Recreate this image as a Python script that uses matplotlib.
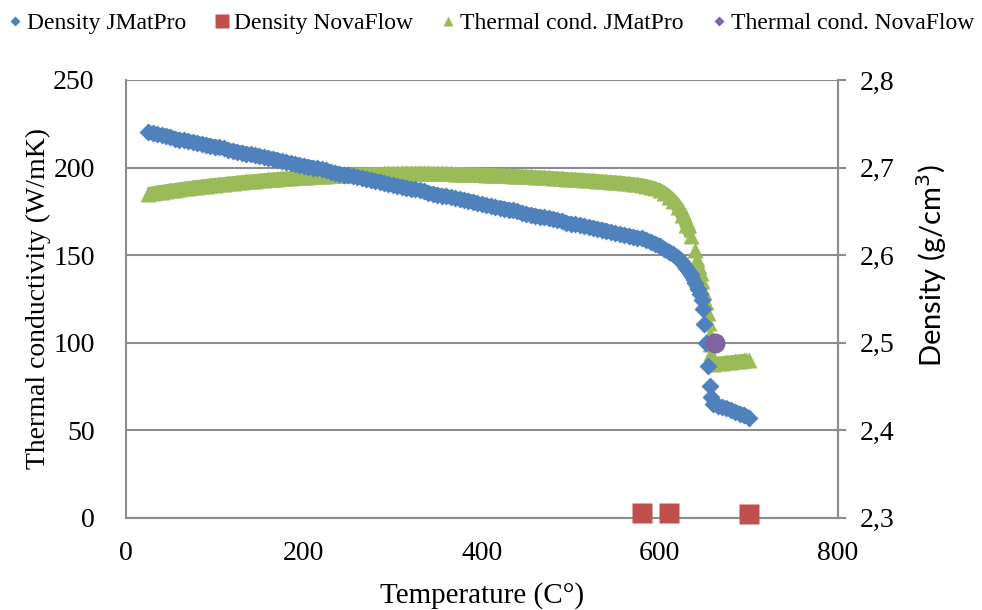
import matplotlib
matplotlib.use("Agg")
import matplotlib.pyplot as plt
from matplotlib.lines import Line2D
from matplotlib.ticker import FuncFormatter, MultipleLocator

plt.rcParams['font.family'] = ['Liberation Serif', 'DejaVu Serif']

# JMatPro density (g/cm3), 25..640 C every 5 C, then the melting range and liquid
dens_temp = [25, 30, 35, 40, 45, 50, 55, 60, 65, 70, 75, 80, 85, 90, 95, 100,
             105, 110, 115, 120, 125, 130, 135, 140, 145, 150, 155, 160, 165, 170, 175, 180, 185, 190, 195, 200,
             205, 210, 215, 220, 225, 230, 235, 240, 245, 250, 255, 260, 265, 270, 275, 280, 285, 290, 295, 300,
             305, 310, 315, 320, 325, 330, 335, 340, 345, 350, 355, 360, 365, 370, 375, 380, 385, 390, 395, 400,
             405, 410, 415, 420, 425, 430, 435, 440, 445, 450, 455, 460, 465, 470, 475, 480, 485, 490, 495, 500,
             505, 510, 515, 520, 525, 530, 535, 540, 545, 550, 555, 560, 565, 570, 575, 580, 585, 590, 595, 600,
             605, 610, 615, 620, 625, 630, 635, 640,
             643, 645, 647, 649, 650, 652, 654, 656, 658, 660,
             665, 670, 675, 680, 685, 690, 695, 700]
dens_jmat = [2.740, 2.739, 2.738, 2.737, 2.736, 2.735, 2.733, 2.732, 2.731, 2.730, 2.729, 2.728, 2.727, 2.726, 2.725, 2.724,
             2.723, 2.722, 2.720, 2.719, 2.718, 2.717, 2.716, 2.715, 2.714, 2.713, 2.712, 2.711, 2.710, 2.709, 2.707, 2.706, 2.705, 2.704, 2.703, 2.702,
             2.701, 2.700, 2.699, 2.698, 2.697, 2.695, 2.694, 2.693, 2.692, 2.691, 2.690, 2.689, 2.688, 2.687, 2.686, 2.685, 2.684, 2.682, 2.681, 2.680,
             2.679, 2.678, 2.677, 2.676, 2.675, 2.674, 2.673, 2.671, 2.670, 2.669, 2.668, 2.667, 2.666, 2.665, 2.664, 2.663, 2.662, 2.661, 2.659, 2.658,
             2.657, 2.656, 2.655, 2.654, 2.653, 2.652, 2.651, 2.650, 2.648, 2.647, 2.646, 2.645, 2.644, 2.643, 2.642, 2.641, 2.640, 2.639, 2.637, 2.636,
             2.635, 2.634, 2.633, 2.632, 2.631, 2.630, 2.629, 2.628, 2.626, 2.625, 2.624, 2.623, 2.622, 2.621, 2.620, 2.619, 2.617, 2.615, 2.613, 2.610,
             2.607, 2.604, 2.601, 2.597, 2.592, 2.585, 2.578, 2.568,
             2.561, 2.555, 2.549, 2.538, 2.521, 2.499, 2.473, 2.451, 2.438, 2.430,
             2.428, 2.426, 2.425, 2.423, 2.421, 2.419, 2.417, 2.414]

# JMatPro thermal conductivity (W/mK)
cond_temp = [25, 30, 35, 40, 45, 50, 55, 60, 65, 70, 75, 80, 85, 90, 95, 100,
             105, 110, 115, 120, 125, 130, 135, 140, 145, 150, 155, 160, 165, 170, 175, 180, 185, 190, 195, 200,
             205, 210, 215, 220, 225, 230, 235, 240, 245, 250, 255, 260, 265, 270, 275, 280, 285, 290, 295, 300,
             305, 310, 315, 320, 325, 330, 335, 340, 345, 350, 355, 360, 365, 370, 375, 380, 385, 390, 395, 400,
             405, 410, 415, 420, 425, 430, 435, 440, 445, 450, 455, 460, 465, 470, 475, 480, 485, 490, 495, 500,
             505, 510, 515, 520, 525, 530, 535, 540, 545, 550, 555, 560, 565, 570, 575, 580, 585, 590, 595, 600,
             605, 610, 615, 620, 625, 630, 635, 640,
             642, 644, 646, 648, 650, 652, 654, 655, 656, 657, 658, 659,
             660, 665, 670, 675, 680, 685, 690, 695, 700]
cond_jmat = [185.0, 185.5, 185.9, 186.3, 186.7, 187.1, 187.4, 187.8, 188.1, 188.4, 188.8, 189.1, 189.4, 189.7, 190.0, 190.3,
             190.5, 190.8, 191.1, 191.3, 191.6, 191.8, 192.1, 192.3, 192.5, 192.7, 193.0, 193.2, 193.4, 193.6, 193.8, 194.0, 194.2, 194.3, 194.5, 194.7,
             194.8, 195.0, 195.1, 195.3, 195.4, 195.5, 195.7, 195.8, 195.9, 196.0, 196.1, 196.2, 196.3, 196.3, 196.4, 196.5, 196.5, 196.6, 196.6, 196.7,
             196.7, 196.7, 196.8, 196.8, 196.8, 196.8, 196.8, 196.8, 196.7, 196.7, 196.7, 196.6, 196.6, 196.5, 196.5, 196.4, 196.3, 196.3, 196.2, 196.1,
             196.0, 195.9, 195.8, 195.7, 195.6, 195.5, 195.4, 195.3, 195.1, 195.0, 194.9, 194.7, 194.6, 194.5, 194.3, 194.2, 194.0, 193.9, 193.7, 193.5,
             193.4, 193.2, 193.0, 192.8, 192.7, 192.5, 192.3, 192.1, 191.9, 191.7, 191.5, 191.2, 191.0, 190.7, 190.4, 190.0, 189.5, 188.9, 188.1, 187.0,
             185.4, 183.3, 180.7, 177.5, 173.0, 167.0, 161.0, 153.0,
             148.0, 144.0, 140.0, 135.0, 129.0, 123.0, 117.0, 111.0, 105.0, 99.0, 94.0, 90.0,
             88.0, 88.2, 88.5, 88.8, 89.0, 89.3, 89.6, 89.8, 90.2]

# NovaFlow values
nova_dens_temp = [580, 610, 700]
nova_dens = [2.52, 2.47, 2.38]
nova_cond_temp = [662]
nova_cond = [100]

BLUE = '#4F81BD'
RED = '#C0504D'
GREEN = '#9BBB59'
PURPLE = '#8064A2'
GRID = '#8C8C8C'


def band(ax, temps, vals, lo, hi, color, lw):
    # fill the gaps between closely spaced markers outside the melting range
    for keep in (lambda t: t <= lo, lambda t: t >= hi):
        xs = [t for t in temps if keep(t)]
        ys = [v for t, v in zip(temps, vals) if keep(t)]
        ax.plot(xs, ys, color=color, lw=lw, solid_capstyle='butt')


fig = plt.figure(figsize=(9.82, 6.10), dpi=100)
ax = fig.add_axes([0.1283, 0.1513, 0.7247, 0.7176])
ax2 = ax.twinx()

band(ax, cond_temp, cond_jmat, 635, 660, GREEN, 9.5)
ax.plot(cond_temp, cond_jmat, linestyle='none', marker='^', ms=12,
        color=GREEN, mec='none')
ax.plot(nova_dens_temp, nova_dens, linestyle='none', marker='s', ms=14.4,
        color=RED, mec='none', clip_on=False, zorder=5)
band(ax2, dens_temp, dens_jmat, 643, 660, BLUE, 10)
ax2.plot(dens_temp, dens_jmat, linestyle='none', marker='D', ms=9.5,
         color=BLUE, mec='none')
# NovaFlow conductivity drawn against the density scale (100 W/mK <-> 2.5 g/cm3)
ax2.plot(nova_cond_temp, [2.3 + v / 500 for v in nova_cond], linestyle='none',
         marker='o', ms=14.4, color=PURPLE, mec='none')

ax.set_xlim(0, 800)
ax.set_ylim(0, 250)
ax2.set_ylim(2.3, 2.8)
ax.xaxis.set_major_locator(MultipleLocator(200))
ax.yaxis.set_major_locator(MultipleLocator(50))
ax2.yaxis.set_major_locator(MultipleLocator(0.1))
ax2.yaxis.set_major_formatter(FuncFormatter(lambda v, p: f"{v:.1f}".replace('.', ',')))

ax.grid(axis='y', color=GRID, linewidth=1.5)
ax.set_axisbelow(True)
for a in (ax, ax2):
    a.spines['top'].set_visible(False)
    for s in ('left', 'bottom', 'right'):
        a.spines[s].set_color(GRID)
        a.spines[s].set_linewidth(1.5)
ax2.spines['left'].set_visible(False)
ax2.spines['bottom'].set_visible(False)

ax.tick_params(axis='both', length=0, labelsize=20, colors='black')
ax.tick_params(axis='y', pad=22.5)
ax.tick_params(axis='x', pad=17)
ax2.tick_params(axis='y', length=6, width=1.5, color=GRID, labelsize=20, pad=10)

ax.set_xlabel('Temperature (C°)', fontsize=21)
ax.xaxis.set_label_coords(0.5, -0.147)
ax.set_ylabel('Thermal conductivity (W/mK)', fontsize=20)
ax.yaxis.set_label_coords(-0.106, 0.5)
ax2.set_ylabel('Density (g/cm$^3$)', fontsize=21, family='Lato')
ax2.yaxis.set_label_coords(1.108, 0.575)

handles = [
    Line2D([], [], linestyle='none', marker='D', ms=5, color=BLUE, mec='none'),
    Line2D([], [], linestyle='none', marker='s', ms=10, color=RED, mec='none'),
    Line2D([], [], linestyle='none', marker='^', ms=7, color=GREEN, mec='none'),
    Line2D([], [], linestyle='none', marker='D', ms=5, color=PURPLE, mec='none'),
]
labels = ['Density JMatPro', 'Density NovaFlow', 'Thermal cond. JMatPro', 'Thermal cond. NovaFlow']
fig.legend(handles, labels, loc='center', bbox_to_anchor=(0.5, 0.962), ncol=4,
           frameon=False, fontsize=17, handlelength=0.6, handletextpad=0.2,
           columnspacing=1.2, borderaxespad=0)

fig.savefig('out.png', dpi=100)
